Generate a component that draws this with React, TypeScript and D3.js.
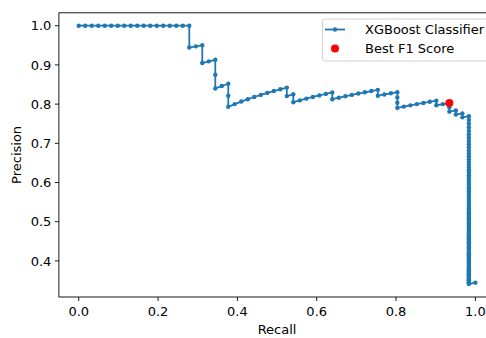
import React from "react";
import * as d3 from "d3";

// Precision–recall curve of an XGBoost classifier (61 positive samples).
const stepRecall = [
  0, 0.0164, 0.0328, 0.0492, 0.0656, 0.082, 0.0984, 0.1148, 0.1311, 0.1475,
  0.1639, 0.1803, 0.1967, 0.2131, 0.2295, 0.2459, 0.2623, 0.2787,
  0.2787, 0.2951, 0.3115, 0.3115, 0.3279, 0.3443, 0.3443, 0.3443, 0.3607, 0.377,
  0.377, 0.377, 0.3934, 0.4098, 0.4262, 0.4426, 0.459, 0.4754, 0.4918, 0.5082,
  0.5246, 0.5246, 0.541, 0.541, 0.5574, 0.5738, 0.5902, 0.6066, 0.623, 0.6393,
  0.6393, 0.6557, 0.6721, 0.6885, 0.7049, 0.7213, 0.7377, 0.7541, 0.7541, 0.7705,
  0.7869, 0.8033, 0.8033, 0.8033, 0.8033, 0.8197, 0.8361, 0.8525, 0.8689, 0.8852,
  0.9016, 0.9016, 0.918, 0.9344, 0.9344, 0.9344, 0.9508, 0.9508, 0.9672, 0.9672,
  0.9836,
];
const stepPrecision = [
  1, 1, 1, 1, 1, 1, 1, 1, 1, 1, 1, 1, 1, 1, 1, 1, 1, 1,
  0.9444, 0.9474, 0.95, 0.9048, 0.9091, 0.913, 0.875, 0.84, 0.8462, 0.8519,
  0.8214, 0.7931, 0.8, 0.8065, 0.8125, 0.8182, 0.8235, 0.8286, 0.8333, 0.8378,
  0.8421, 0.8205, 0.825, 0.8049, 0.8095, 0.814, 0.8182, 0.8222, 0.8261, 0.8298,
  0.8125, 0.8163, 0.82, 0.8235, 0.8269, 0.8302, 0.8333, 0.8364, 0.8214, 0.8246,
  0.8276, 0.8305, 0.8167, 0.8033, 0.7903, 0.7937, 0.7969, 0.8, 0.803, 0.806,
  0.8088, 0.7971, 0.8, 0.8028, 0.7917, 0.7808, 0.7838, 0.7733, 0.7763, 0.7662,
  0.7692,
];

// Thresholds below the last-but-one positive: recall stays at 60/61.
const tailRecall = 0.9836;
const tailPrecision = [
  0.7595, 0.75, 0.7407, 0.7317, 0.7229, 0.7143, 0.7059, 0.6977, 0.6897, 0.6818,
  0.6742, 0.6667, 0.6593, 0.6522, 0.6452, 0.6383, 0.6316, 0.625, 0.6186, 0.6122,
  0.6061, 0.6, 0.5941, 0.5882, 0.5825, 0.5769, 0.5714, 0.566, 0.5607, 0.5556,
  0.5505, 0.5455, 0.5405, 0.5357, 0.531, 0.5263, 0.5217, 0.5172, 0.5128, 0.5085,
  0.5042, 0.5, 0.4959, 0.4918, 0.4878, 0.4839, 0.48, 0.4762, 0.4724, 0.4688,
  0.4651, 0.4615, 0.458, 0.4545, 0.4511, 0.4478, 0.4444, 0.4412, 0.438, 0.4348,
  0.4317, 0.4286, 0.4255, 0.4225, 0.4196, 0.4167, 0.4138, 0.411, 0.4082, 0.4054,
  0.4027, 0.4, 0.3974, 0.3947, 0.3922, 0.3896, 0.3871, 0.3846, 0.3822, 0.3797,
  0.3774, 0.375, 0.3727, 0.3704, 0.3681, 0.3659, 0.3636, 0.3614, 0.3593, 0.3571,
  0.355, 0.3529, 0.3509, 0.3488, 0.3468, 0.3448, 0.3429, 0.3409,
];
const endRecall = 1.0;
const endPrecision = 0.3446;

const bestF1 = { recall: 0.9344, precision: 0.8028 };

const xTicks = [0, 0.2, 0.4, 0.6, 0.8, 1.0];
const yTicks = [0.4, 0.5, 0.6, 0.7, 0.8, 0.9, 1.0];

const W = 486;
const H = 338;
const BLUE = "#1f77b4";
const FONT = "DejaVu Sans, sans-serif";
const FS = 13;

export default function App() {
  const points: [number, number][] = [
    ...stepRecall.map((r, i) => [r, stepPrecision[i]] as [number, number]),
    ...tailPrecision.map((p) => [tailRecall, p] as [number, number]),
    [endRecall, endPrecision],
  ];

  const xMin = d3.min(points, (d) => d[0])!;
  const xMax = d3.max(points, (d) => d[0])!;
  const yMin = d3.min(points, (d) => d[1])!;
  const yMax = d3.max(points, (d) => d[1])!;
  const xPad = (xMax - xMin) * 0.05;
  const yPad = (yMax - yMin) * 0.05;

  const x = d3
    .scaleLinear()
    .domain([xMin - xPad, xMax + xPad])
    .range([58.9, 495.2]);
  const y = d3
    .scaleLinear()
    .domain([yMin - yPad, yMax + yPad])
    .range([297, 12.8]);

  const line = d3
    .line<[number, number]>()
    .x((d) => x(d[0]))
    .y((d) => y(d[1]));

  const [x0, x1] = x.range();
  const [yb, yt] = y.range();

  return (
    <svg
      width={W}
      height={H}
      style={{ position: "absolute", left: 0, top: 0, background: "#fff" }}
      fontFamily={FONT}
    >
      <defs>
        <clipPath id="plot-area">
          <rect x={x0} y={yt} width={x1 - x0} height={yb - yt} />
        </clipPath>
      </defs>

      <g clipPath="url(#plot-area)">
        <path d={line(points)!} fill="none" stroke={BLUE} strokeWidth={1.8} strokeLinejoin="round" />
        {points.map((d, i) => (
          <circle key={i} cx={x(d[0])} cy={y(d[1])} r={2.2} fill={BLUE} />
        ))}
        <circle cx={x(bestF1.recall)} cy={y(bestF1.precision)} r={4} fill="red" />
      </g>

      {/* axes frame */}
      <rect x={x0} y={yt} width={x1 - x0} height={yb - yt} fill="none" stroke="#000" strokeWidth={0.9} />

      {/* x axis */}
      {xTicks.map((t) => (
        <g key={t}>
          <line x1={x(t)} x2={x(t)} y1={yb} y2={yb + 4} stroke="#000" strokeWidth={0.9} />
          <text x={x(t)} y={316} textAnchor="middle" fontSize={FS} fill="#000">
            {t.toFixed(1)}
          </text>
        </g>
      ))}
      <text x={(x(0) + x(1)) / 2} y={333.5} textAnchor="middle" fontSize={FS} fill="#000">
        Recall
      </text>

      {/* y axis */}
      {yTicks.map((t) => (
        <g key={t}>
          <line x1={x0 - 4} x2={x0} y1={y(t)} y2={y(t)} stroke="#000" strokeWidth={0.9} />
          <text x={x0 - 7.5} y={y(t)} dy="0.36em" textAnchor="end" fontSize={FS} fill="#000">
            {t.toFixed(1)}
          </text>
        </g>
      ))}
      <text
        transform={`translate(20.7,${(yb + yt) / 2}) rotate(-90)`}
        textAnchor="middle"
        fontSize={FS}
        fill="#000"
      >
        Precision
      </text>

      {/* legend */}
      <g>
        <rect x={322.5} y={19} width={172} height={42} rx={3} fill="#fff" fillOpacity={0.8} stroke="#ccc" strokeWidth={0.9} />
        <line x1={325} x2={345} y1={29.5} y2={29.5} stroke={BLUE} strokeWidth={1.8} />
        <circle cx={335} cy={29.5} r={2.2} fill={BLUE} />
        <text x={365} y={29.5} dy="0.36em" fontSize={FS} fill="#000">
          XGBoost Classifier
        </text>
        <circle cx={335} cy={48.5} r={4} fill="red" />
        <text x={365} y={48.5} dy="0.36em" fontSize={FS} fill="#000">
          Best F1 Score
        </text>
      </g>
    </svg>
  );
}
